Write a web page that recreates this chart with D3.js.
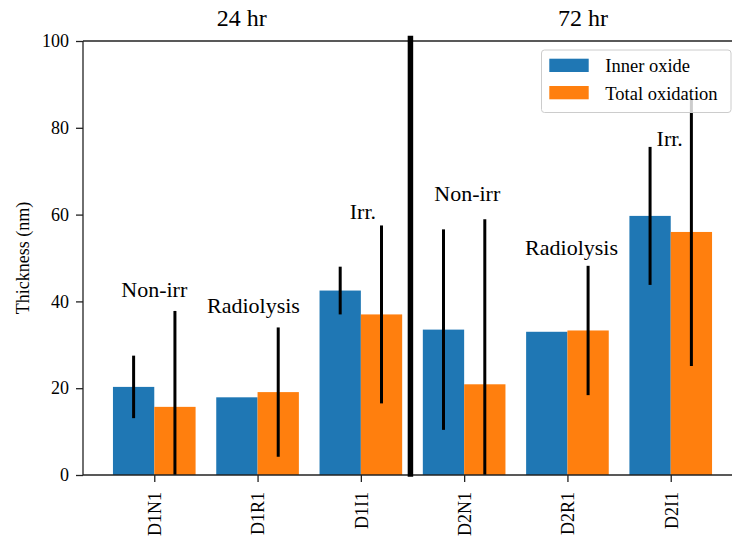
<!DOCTYPE html>
<html>
<head>
<meta charset="utf-8">
<script src="https://cdn.jsdelivr.net/npm/d3@7/dist/d3.min.js"></script>
<style>
  html, body { margin: 0; padding: 0; background: #fff; }
  svg { display: block; overflow: hidden; }
  text { font-family: "Liberation Serif", "Times New Roman", serif; fill: #000; }
</style>
</head>
<body>
<svg id="chart" width="732" height="536"></svg>
<script>
// Samples and oxide thickness (nm), mean and error half-width
const categories = ["D1N1", "D1R1", "D1I1", "D2N1", "D2R1", "D2I1"];
const innerOxide = [20.3, 17.9, 42.5, 33.5, 33.0, 59.7];
const innerErr = [7.2, null, 5.5, 23.1, null, 15.9];
const totalOxidation = [15.7, 19.1, 37.0, 20.9, 33.3, 56.0];
const totalErr = [22.1, 14.9, 20.5, 38.0, 14.9, 30.9];
const seriesNames = ["Inner oxide", "Total oxidation"];
const seriesColors = ["#1f77b4", "#ff7f0e"];
const yTicks = [0, 20, 40, 60, 80, 100];

// Group notes written above each pair of bars: [text, x (category units), y (nm)]
const notes = [
  ["Non-irr", 0.0, 41.0],
  ["Radiolysis", 0.96, 37.3],
  ["Irr.", 2.02, 59.1],
  ["Non-irr", 3.03, 63.2],
  ["Radiolysis", 4.04, 50.7],
  ["Irr.", 4.99, 75.9]
];
const periods = [["24 hr", 0.846], ["72 hr", 4.15]];
const dividerX = 2.48;

const svg = d3.select("#chart");
const plot = { left: 83, right: 742, top: 41, bottom: 475 };
const barW = 0.4;

const x = d3.scaleLinear().domain([-0.69, 5.69]).range([plot.left, plot.right]);
const y = d3.scaleLinear().domain([0, 100]).range([plot.bottom, plot.top]);

svg.append("defs").append("clipPath").attr("id", "plotClip")
  .append("rect")
  .attr("x", plot.left).attr("y", plot.top)
  .attr("width", plot.right - plot.left).attr("height", plot.bottom - plot.top);

const g = svg.append("g").attr("clip-path", "url(#plotClip)");

const series = [
  { values: innerOxide, errs: innerErr, offset: -barW, color: seriesColors[0] },
  { values: totalOxidation, errs: totalErr, offset: 0, color: seriesColors[1] }
];

// Bars
series.forEach(s => {
  g.selectAll(null).data(s.values).enter().append("rect")
    .attr("x", (d, i) => x(i + s.offset))
    .attr("width", x(barW) - x(0))
    .attr("y", d => y(d))
    .attr("height", d => y(0) - y(d))
    .attr("fill", s.color);
});

// Error bars
series.forEach(s => {
  const pts = s.values.map((v, i) => ({ i, v, e: s.errs[i] })).filter(p => p.e != null);
  g.selectAll(null).data(pts).enter().append("line")
    .attr("x1", p => x(p.i + s.offset + barW / 2))
    .attr("x2", p => x(p.i + s.offset + barW / 2))
    .attr("y1", p => y(p.v - p.e))
    .attr("y2", p => y(p.v + p.e))
    .attr("stroke", "#000")
    .attr("stroke-width", 3);
});

// Axes
const yAxis = d3.axisLeft(y).tickValues(yTicks).tickSize(7).tickPadding(7).tickFormat(d3.format("d"));
const yg = svg.append("g").attr("transform", `translate(${plot.left},0)`).call(yAxis);
yg.select(".domain").remove();
yg.selectAll("line").attr("stroke", "#222").attr("stroke-width", 1.3);
yg.selectAll("text").style("font-size", "18px").attr("fill", "#000");

const xAxis = d3.axisBottom(x).tickValues(d3.range(categories.length)).tickSize(7).tickPadding(7)
  .tickFormat(i => categories[i]);
const xg = svg.append("g").attr("transform", `translate(0,${plot.bottom})`).call(xAxis);
xg.select(".domain").remove();
xg.selectAll("line").attr("stroke", "#222").attr("stroke-width", 1.3);
xg.selectAll("text")
  .style("font-size", "18px")
  .attr("fill", "#000")
  .attr("text-anchor", "end")
  .attr("dy", "0.35em")
  .attr("transform", "translate(0,17) rotate(-90)")
  .attr("x", 0).attr("y", 0);

// Spines
const spine = svg.append("g").attr("stroke", "#222").attr("stroke-width", 1.3).attr("fill", "none");
spine.append("line").attr("x1", plot.left).attr("x2", plot.left).attr("y1", plot.top).attr("y2", plot.bottom);
spine.append("line").attr("x1", plot.left).attr("x2", plot.right).attr("y1", plot.bottom).attr("y2", plot.bottom);
spine.append("line").attr("x1", plot.left).attr("x2", plot.right).attr("y1", plot.top).attr("y2", plot.top);
spine.append("line").attr("x1", plot.right).attr("x2", plot.right).attr("y1", plot.top).attr("y2", plot.bottom);

// Divider between the two exposure times
svg.append("line")
  .attr("x1", x(dividerX)).attr("x2", x(dividerX))
  .attr("y1", y(101.2)).attr("y2", y(-0.4))
  .attr("stroke", "#000").attr("stroke-width", 5.5);

// Group notes
svg.selectAll(null).data(notes).enter().append("text")
  .attr("x", d => x(d[1]))
  .attr("y", d => y(d[2]))
  .attr("text-anchor", "middle")
  .style("font-size", "22px")
  .text(d => d[0]);

// Period headings
svg.selectAll(null).data(periods).enter().append("text")
  .attr("x", d => x(d[1]))
  .attr("y", 26)
  .attr("text-anchor", "middle")
  .style("font-size", "24px")
  .text(d => d[0]);

// Y axis title
svg.append("text")
  .attr("transform", `translate(28.5,${(plot.top + plot.bottom) / 2}) rotate(-90)`)
  .attr("text-anchor", "middle")
  .style("font-size", "18px")
  .text("Thickness (nm)");

// Legend
const lg = svg.append("g");
lg.append("rect")
  .attr("x", 541.5).attr("y", 50).attr("width", 189.5).attr("height", 62.5)
  .attr("rx", 3).attr("fill", "#fff").attr("fill-opacity", 0.8)
  .attr("stroke", "#ccc").attr("stroke-width", 1);
seriesNames.forEach((name, i) => {
  const yy = 58.7 + i * 27.3;
  lg.append("rect").attr("x", 549.3).attr("y", yy).attr("width", 39.4).attr("height", 13.3)
    .attr("fill", seriesColors[i]);
  lg.append("text").attr("x", 605.3).attr("y", yy + 13.6).style("font-size", "18.5px").text(name);
});
</script>
</body>
</html>
